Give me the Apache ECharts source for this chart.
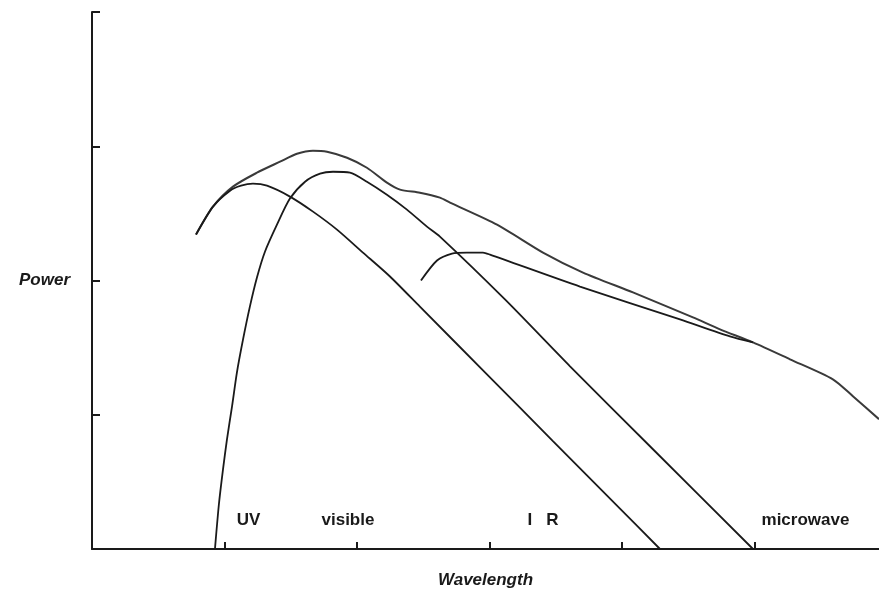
<!DOCTYPE html>
<html>
<head>
<meta charset="utf-8">
<script src="https://cdn.jsdelivr.net/npm/echarts@6/dist/echarts.min.js"></script>
<style>
html,body{margin:0;padding:0;background:#fff;}
#chart{width:879px;height:594px;}
</style>
</head>
<body>
<div id="chart"></div>
<script>
// Combined (envelope) curve
const envelopeX = [0.785,0.913,1.064,1.245,1.419,1.547,1.668,1.774,1.925,2.075,2.226,2.325,2.475,2.626,2.702,3.057,3.404,3.706,4.083,4.536,4.740,4.989,5.268,5.592,5.743,5.940];
const envelopeY = [2.342,2.550,2.699,2.803,2.885,2.944,2.967,2.959,2.914,2.840,2.729,2.677,2.654,2.617,2.580,2.416,2.208,2.059,1.911,1.725,1.636,1.539,1.413,1.264,1.138,0.967];
// UV-peaked curve
const uvX = [0.785,0.913,1.042,1.125,1.215,1.321,1.494,1.668,1.849,2.045,2.249,2.475,2.981,3.479,3.985,4.287];
const uvY = [2.342,2.550,2.669,2.706,2.721,2.706,2.625,2.513,2.379,2.208,2.030,1.805,1.301,0.804,0.301,0];
// Visible-peaked curve
const visX = [0.928,0.958,0.989,1.019,1.057,1.094,1.140,1.192,1.245,1.306,1.396,1.494,1.608,1.721,1.819,1.947,2.075,2.226,2.377,2.528,2.626,3.117,3.608,4.234,4.989];
const visY = [0,0.335,0.595,0.818,1.063,1.316,1.561,1.807,2.022,2.216,2.416,2.610,2.736,2.796,2.810,2.803,2.736,2.639,2.528,2.401,2.327,1.859,1.361,0.743,0];
// IR-peaked curve
const irX = [2.483,2.604,2.717,2.830,2.951,3.004,3.683,4.438,4.815,4.989];
const irY = [2.000,2.149,2.201,2.208,2.208,2.193,1.955,1.710,1.584,1.539];
// Band labels
const bandNames = ['UV','visible','I   R','microwave'];
const bandX = [1.181,1.932,3.404,5.385];
const bandY = [0.212,0.212,0.212,0.212];
const yTicks = [0,1,2,3,4];
const xTicks = [1,2,3,4,5];
const xMax = 5.94;

const zip = (xs, ys) => xs.map((x, i) => [x, ys[i]]);
const lineColor = '#1a1a1a';

const chart = echarts.init(document.getElementById('chart'));
chart.setOption({
  animation: false,
  backgroundColor: '#fff',
  grid: {left: 92, right: 0, top: 12, bottom: 44},
  xAxis: {
    type: 'value', min: 0, max: xMax,
    name: 'Wavelength', nameLocation: 'middle', nameGap: 23,
    nameTextStyle: {fontFamily: 'Liberation Sans', fontWeight: 'bold', fontStyle: 'italic', fontSize: 17, color: '#1a1a1a'},
    axisLine: {lineStyle: {color: '#1a1a1a', width: 2}},
    axisTick: {inside: true, length: 7, customValues: xTicks, lineStyle: {color: '#1a1a1a', width: 2}},
    axisLabel: {show: false},
    splitLine: {show: false}
  },
  yAxis: {
    type: 'value', min: yTicks[0], max: yTicks[yTicks.length - 1], interval: 1,
    name: 'Power', nameLocation: 'middle', nameRotate: 0, nameGap: 22,
    nameTextStyle: {fontFamily: 'Liberation Sans', fontWeight: 'bold', fontStyle: 'italic', fontSize: 17, color: '#1a1a1a'},
    axisLine: {lineStyle: {color: '#1a1a1a', width: 2}},
    axisTick: {inside: true, length: 8, lineStyle: {color: '#1a1a1a', width: 2}},
    axisLabel: {show: false},
    splitLine: {show: false}
  },
  series: [
    {type: 'line', data: zip(envelopeX, envelopeY), showSymbol: false, smooth: 0.25,
     lineStyle: {color: '#3a3a3a', width: 2}},
    {type: 'line', data: zip(uvX, uvY), showSymbol: false, smooth: 0.25,
     lineStyle: {color: lineColor, width: 1.8}},
    {type: 'line', data: zip(visX, visY), showSymbol: false, smooth: 0.25,
     lineStyle: {color: lineColor, width: 1.8}},
    {type: 'line', data: zip(irX, irY), showSymbol: false, smooth: 0.25,
     lineStyle: {color: lineColor, width: 1.8}},
    {type: 'scatter', symbolSize: 0, silent: true,
     itemStyle: {opacity: 1},
     data: bandNames.map((n, i) => ({name: n, value: [bandX[i], bandY[i]]})),
     label: {show: true, position: 'inside', formatter: p => p.name,
       fontFamily: 'Liberation Sans', fontWeight: 'bold', fontSize: 17, color: '#1a1a1a', opacity: 1}}
  ]
});
</script>
</body>
</html>
